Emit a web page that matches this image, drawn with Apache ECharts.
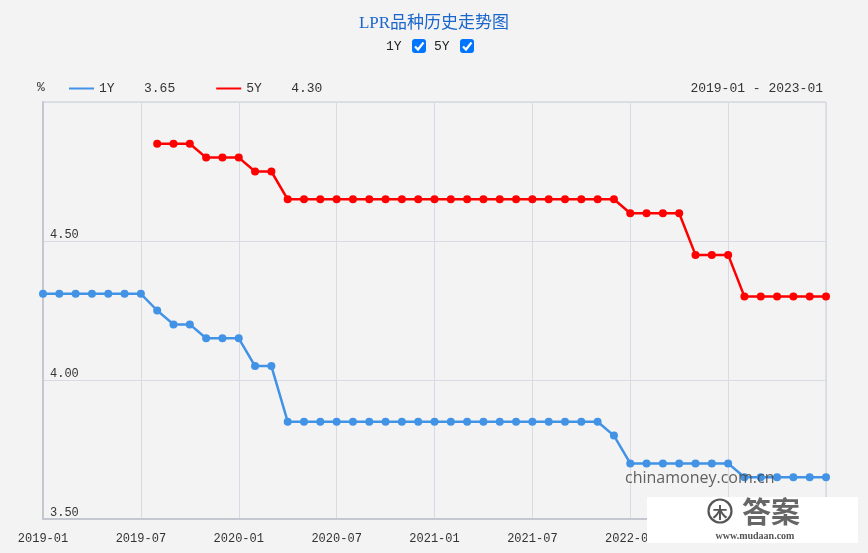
<!DOCTYPE html>
<html><head><meta charset="utf-8">
<script src="https://cdn.jsdelivr.net/npm/echarts@6/dist/echarts.min.js"></script>
<style>html,body{margin:0;padding:0;background:#f3f3f3;}#c{width:868px;height:553px;}</style>
</head><body><div id="c"></div>
<script>
// ---- data ----
const startYear = 2019, startMonth = 1, monthCount = 49;
const months = [];
for (let i = 0; i < monthCount; i++) {
  const y = startYear + Math.floor((startMonth - 1 + i) / 12);
  const m = (startMonth - 1 + i) % 12 + 1;
  months.push(y + '-' + (m < 10 ? '0' + m : m));
}
const seriesNames = ['1Y', '5Y'];
const lpr1Y = [4.31,4.31,4.31,4.31,4.31,4.31,4.31,4.25,4.20,4.20,4.15,4.15,
  4.15,4.05,4.05,3.85,3.85,3.85,3.85,3.85,3.85,3.85,3.85,3.85,
  3.85,3.85,3.85,3.85,3.85,3.85,3.85,3.85,3.85,3.85,3.85,3.80,
  3.70,3.70,3.70,3.70,3.70,3.70,3.70,3.65,3.65,3.65,3.65,3.65,
  3.65];
const lpr5Y = [null,null,null,null,null,null,null,4.85,4.85,4.85,4.80,4.80,
  4.80,4.75,4.75,4.65,4.65,4.65,4.65,4.65,4.65,4.65,4.65,4.65,
  4.65,4.65,4.65,4.65,4.65,4.65,4.65,4.65,4.65,4.65,4.65,4.65,
  4.60,4.60,4.60,4.60,4.45,4.45,4.45,4.30,4.30,4.30,4.30,4.30,
  4.30];
const latest = {'1Y': '3.65', '5Y': '4.30'};
const titleText = 'LPR品种历史走势图';
const rangeText = '2019-01 - 2023-01';
const yMin = 3.5, yMax = 5.0, yStep = 0.5;

const mono = '"Liberation Mono","DejaVu Sans Mono",monospace';
const chart = echarts.init(document.getElementById('c'));

function checkbox(x, y) {
  return {
    type: 'group', x: x, y: y, z: 100,
    children: [
      {type: 'rect', shape: {x: 0, y: 0, width: 14, height: 14, r: 3}, style: {fill: '#0075ff'}},
      {type: 'polyline', shape: {points: [[3, 7.5], [6, 10.5], [11.5, 3.5]]}, style: {stroke: '#fff', lineWidth: 2.2, fill: null}}
    ]
  };
}

chart.setOption({
  animation: false,
  backgroundColor: '#f3f3f3',
  title: {
    text: titleText, left: 'center', top: 10,
    textStyle: {color: '#1a66cc', fontSize: 17, fontWeight: 'normal', fontFamily: '"Liberation Serif","Noto Sans CJK SC",serif'}
  },
  legend: {
    left: 64, top: 77, itemWidth: 25, itemHeight: 2, itemGap: 41, icon: 'rect',
    data: seriesNames,
    formatter: function (n) { return '{n|' + n + '}{v|' + latest[n] + '}'; },
    textStyle: {
      color: '#333', fontFamily: mono, fontSize: 13,
      rich: {n: {width: 45, fontFamily: mono, fontSize: 13, color: '#333'}, v: {fontFamily: mono, fontSize: 13, color: '#333'}}
    }
  },
  grid: {left: 43, right: 42, top: 102, bottom: 34, show: true, borderColor: '#c9ccd4', borderWidth: 1},
  xAxis: {
    type: 'category', data: months, boundaryGap: false,
    axisLine: {lineStyle: {color: '#c4c7cf', width: 2}},
    axisTick: {show: false},
    axisLabel: {interval: 5, color: '#333', fontFamily: mono, fontSize: 12, margin: 14},
    splitLine: {show: true, interval: 5, lineStyle: {color: '#d8dbe3'}}
  },
  yAxis: {
    type: 'value', min: yMin, max: yMax, interval: yStep,
    name: '%', nameLocation: 'end', nameGap: 8,
    nameTextStyle: {color: '#333', fontFamily: mono, fontSize: 13, align: 'center', padding: [0, 4, 0, 0]},
    axisLine: {show: true, lineStyle: {color: '#c4c7cf', width: 2}},
    axisTick: {show: false},
    axisLabel: {
      inside: true, margin: 7, showMaxLabel: false, verticalAlign: 'bottom', padding: [0, 0, 0, 0],
      color: '#333', fontFamily: mono, fontSize: 12,
      formatter: function (v) { return v.toFixed(2); }
    },
    splitLine: {lineStyle: {color: '#d8dbe3'}}
  },
  series: [
    {name: '1Y', type: 'line', data: lpr1Y, symbol: 'circle', symbolSize: 8,
     itemStyle: {color: '#4293e6'}, lineStyle: {color: '#4293e6', width: 2.5}},
    {name: '5Y', type: 'line', data: lpr5Y, symbol: 'circle', symbolSize: 8,
     itemStyle: {color: '#ff0000'}, lineStyle: {color: '#ff0000', width: 2.5}}
  ],
  graphic: [
    {type: 'text', left: 386, top: 40, z: 100, style: {text: '1Y', font: '13px ' + mono, fill: '#222'}},
    checkbox(412, 39),
    {type: 'text', left: 434, top: 40, z: 100, style: {text: '5Y', font: '13px ' + mono, fill: '#222'}},
    checkbox(460, 39),
    {type: 'text', right: 45, top: 82, z: 100, style: {text: rangeText, font: '13px ' + mono, fill: '#333'}},
    {type: 'text', left: 625, top: 470, z: 100, style: {text: 'chinamoney.com.cn', font: '16px "Open Sans","Noto Sans",sans-serif', fill: 'rgba(70,70,70,0.85)'}},
    {type: 'group', z: 200, children: [
      {type: 'rect', shape: {x: 647, y: 497, width: 211, height: 46}, style: {fill: '#ffffff'}, z: 200},
      {type: 'circle', shape: {cx: 720, cy: 511, r: 11.5}, style: {fill: '#fff', stroke: '#555', lineWidth: 2.2}, z: 201},
      {type: 'text', x: 720, y: 512, z: 202, style: {text: '木', font: 'bold 15px "Noto Sans CJK SC"', fill: '#555', align: 'center', verticalAlign: 'middle'}},
      {type: 'text', x: 742, y: 512, z: 202, style: {text: '答案', font: 'bold 29px "Noto Sans CJK SC"', fill: '#666', verticalAlign: 'middle'}},
      {type: 'text', x: 755, y: 536, z: 202, style: {text: 'www.mudaan.com', font: 'bold 10px "Liberation Serif",serif', fill: '#555', align: 'center', verticalAlign: 'middle'}}
    ]}
  ]
});
</script></body></html>
